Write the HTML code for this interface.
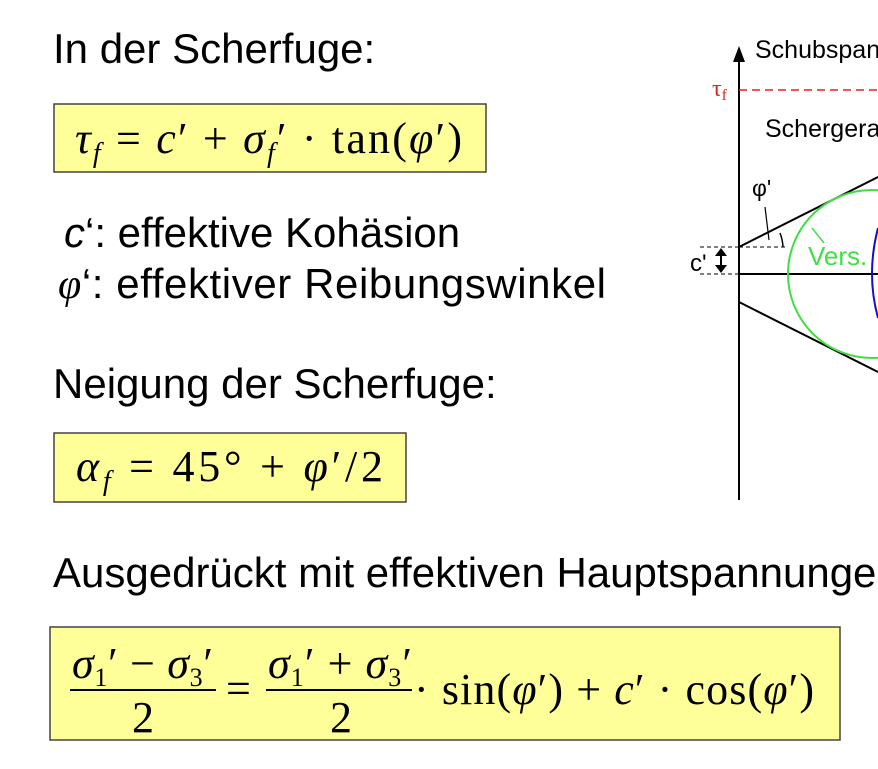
<!DOCTYPE html>
<html><head><meta charset="utf-8"><style>
html,body{margin:0;padding:0;background:#fff;}
svg{display:block}
.t{font-family:"Liberation Sans",sans-serif;font-size:42px;fill:#000}
.m{font-family:"Liberation Serif",serif;font-size:44px;fill:#000}
.i{font-style:italic}
</style></head><body>
<svg width="878" height="769" viewBox="0 0 878 769">
<text class="t" x="53" y="63">In der Scherfuge:</text>
<rect x="54" y="104" width="432" height="68" fill="#ffff99" stroke="#444" stroke-width="1.5"/>
<text class="m" x="75" y="153" textLength="387" lengthAdjust="spacing"><tspan class="i">τ</tspan><tspan class="i" font-size="28" dy="9">f</tspan><tspan dy="-9"> = </tspan><tspan class="i">c</tspan>′ + <tspan class="i">σ</tspan><tspan class="i" font-size="28" dy="9">f</tspan><tspan dy="-9">′ · tan(</tspan><tspan class="i">φ</tspan>′)</text>
<text class="t" x="64" y="247"><tspan class="i">c</tspan>‘: effektive Kohäsion</text>
<text class="t" x="58" y="298" textLength="548"><tspan class="i" font-family="Liberation Serif">φ</tspan>‘: effektiver Reibungswinkel</text>
<text class="t" x="53" y="398">Neigung der Scherfuge:</text>
<rect x="54" y="433" width="352" height="69" fill="#ffff99" stroke="#444" stroke-width="1.5"/>
<text class="m" x="76" y="481" textLength="307" lengthAdjust="spacing"><tspan class="i">α</tspan><tspan class="i" font-size="28" dy="9">f</tspan><tspan dy="-9"> = 45° +  </tspan><tspan class="i">φ</tspan>′/2</text>
<text class="t" x="53" y="587">Ausgedrückt mit effektiven Hauptspannungen:</text>
<rect x="50" y="627" width="790" height="113" fill="#ffff99" stroke="#444" stroke-width="1.5"/>
<g>
<text class="m" x="72" y="678" textLength="141" lengthAdjust="spacing"><tspan class="i">σ</tspan><tspan font-size="26" dy="8">1</tspan><tspan dy="-8">′ − </tspan><tspan class="i">σ</tspan><tspan font-size="26" dy="8">3</tspan><tspan dy="-8">′</tspan></text>
<line x1="70" y1="690" x2="216" y2="690" stroke="#000" stroke-width="2"/>
<text class="m" x="132" y="732">2</text>
<text class="m" x="226" y="703">=</text>
<text class="m" x="268" y="678" textLength="144" lengthAdjust="spacing"><tspan class="i">σ</tspan><tspan font-size="26" dy="8">1</tspan><tspan dy="-8">′ + </tspan><tspan class="i">σ</tspan><tspan font-size="26" dy="8">3</tspan><tspan dy="-8">′</tspan></text>
<line x1="266" y1="690" x2="412" y2="690" stroke="#000" stroke-width="2"/>
<text class="m" x="330" y="732">2</text>
<text class="m" x="414" y="704" textLength="400" lengthAdjust="spacing">· sin(<tspan class="i">φ</tspan>′) + <tspan class="i">c</tspan>′ · cos(<tspan class="i">φ</tspan>′)</text>
</g>
<g>
<line x1="739" y1="500" x2="739" y2="58" stroke="#000" stroke-width="2"/>
<polygon points="739,46 733,62 745,62" fill="#000"/>
<text x="755" y="58" font-family="Liberation Sans,sans-serif" font-size="25">Schubspannung</text>
<text x="712" y="96" font-family="Liberation Serif,serif" font-size="24" fill="#d22">τ<tspan font-size="16" dy="4">f</tspan></text>
<line x1="739" y1="90" x2="878" y2="90" stroke="#d22" stroke-width="1.5" stroke-dasharray="8,5"/>
<text x="765" y="137" font-family="Liberation Sans,sans-serif" font-size="25">Schergerade</text>
<line x1="739" y1="274" x2="878" y2="274" stroke="#000" stroke-width="2"/>
<line x1="739" y1="247" x2="878" y2="177" stroke="#000" stroke-width="2"/>
<line x1="739" y1="302" x2="878" y2="372" stroke="#000" stroke-width="2"/>
<line x1="739" y1="247" x2="787" y2="247" stroke="#000" stroke-width="1" stroke-dasharray="4,3"/>
<line x1="700" y1="247" x2="739" y2="247" stroke="#000" stroke-width="1" stroke-dasharray="4,3"/>
<line x1="700" y1="274" x2="739" y2="274" stroke="#000" stroke-width="1" stroke-dasharray="4,3"/>
<line x1="721" y1="250" x2="721" y2="271" stroke="#000" stroke-width="2"/>
<polygon points="721,248 715,256 727,256" fill="#000"/>
<polygon points="721,273 715,265 727,265" fill="#000"/>
<text x="690" y="271" font-family="Liberation Sans,sans-serif" font-size="24">c'</text>
<path d="M783,247 A44,44 0 0 0 780,233" fill="none" stroke="#000" stroke-width="1.5"/>
<line x1="769" y1="240" x2="765" y2="207" stroke="#000" stroke-width="1.2"/>
<text x="752" y="196" font-family="Liberation Sans,sans-serif" font-size="23">φ'</text>
<circle cx="872" cy="274" r="84" fill="none" stroke="#44dd44" stroke-width="2"/>
<line x1="812" y1="228" x2="824" y2="243" stroke="#44dd44" stroke-width="1.5"/>
<text x="808" y="265" font-family="Liberation Sans,sans-serif" font-size="26" fill="#44dd44">Vers.</text>
<path d="M878,228 Q866,274 878,318" fill="none" stroke="#1111cc" stroke-width="2"/>
</g>
</svg>
</body></html>
